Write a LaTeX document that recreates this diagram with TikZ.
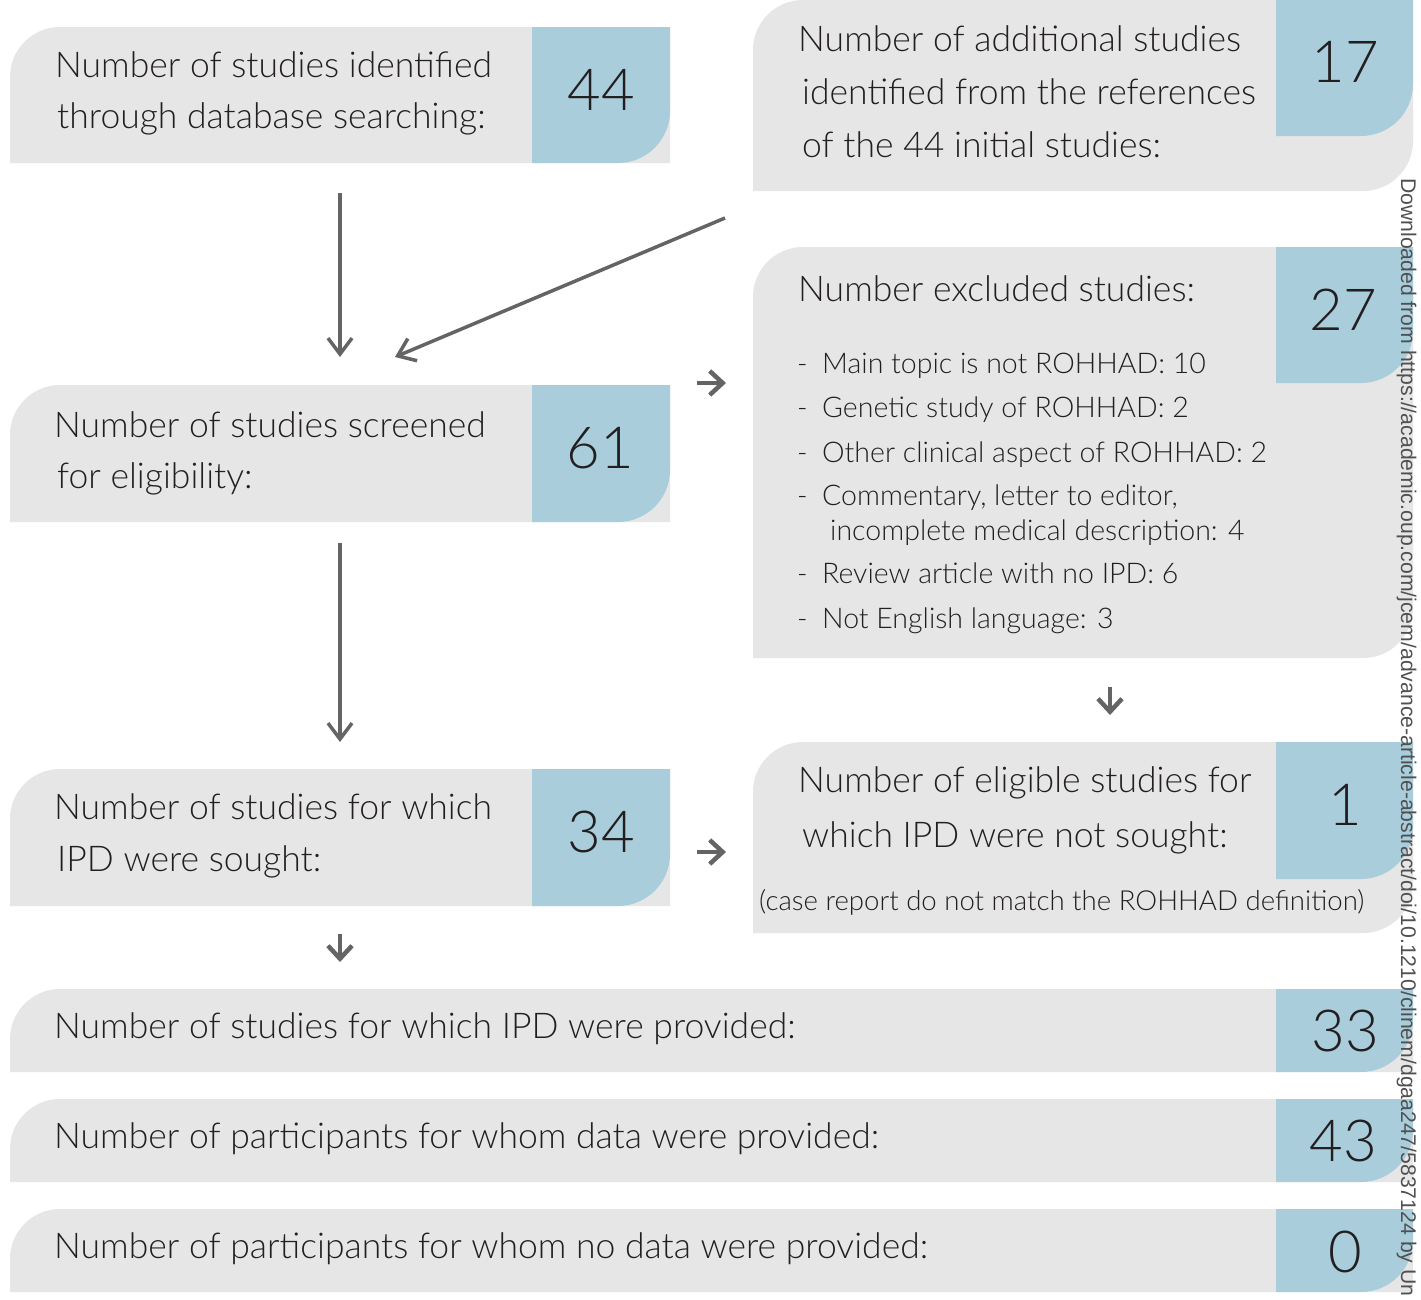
\documentclass[tikz,border=0pt]{standalone}
\usepackage{fontspec}
\IfFontExistsTF{Lato Light}{\setmainfont{Lato Light}}{\setmainfont{Lato}}
\newfontfamily\wmfont{Liberation Sans}
\usetikzlibrary{arrows.meta}
\definecolor{boxgrey}{RGB}{230,230,230}
\definecolor{boxblue}{RGB}{169,205,219}
\definecolor{txt}{RGB}{35,31,32}
\definecolor{arr}{RGB}{100,100,100}
\definecolor{wm}{RGB}{80,80,80}
\begin{document}
\begin{tikzpicture}[x=1pt,y=1pt,
 lbl/.style={anchor=base west, inner sep=0pt, text=txt, font=\fontsize{35.5}{40}\selectfont},
 sub/.style={anchor=base west, inner sep=0pt, text=txt, font=\fontsize{28.5}{32}\selectfont},
 note/.style={anchor=base west, inner sep=0pt, text=txt, font=\fontsize{27.6}{32}\selectfont},
 num/.style={anchor=base, inner sep=0pt, text=txt, font=\fontsize{58}{60}\selectfont},
 flow/.style={draw=arr, line width=3.5pt, -{Straight Barb[length=16pt,width=24pt]}},
 flowshort/.style={draw=arr, line width=4.5pt, -{Straight Barb[length=13pt,width=24pt]}},
 greyfill/.style={fill=boxgrey}, bluefill/.style={fill=boxblue}]
\fill[white] (0,0) rectangle (1421,-1299);
\useasboundingbox (0,0) rectangle (1421,-1299);

% ---------- grey boxes ----------
% A identified
\fill[greyfill] (10,-163) -- (10,-77) arc[start angle=180,end angle=90,radius=50] -- (670,-27) -- (670,-163) -- cycle;
% B additional
\fill[greyfill] (753,-191) -- (753,-50) arc[start angle=180,end angle=90,radius=50] -- (1413,0) -- (1413,-141) arc[start angle=0,end angle=-90,radius=50] -- cycle;
% C excluded
\fill[greyfill] (753,-658) -- (753,-297) arc[start angle=180,end angle=90,radius=50] -- (1413,-247) -- (1413,-608) arc[start angle=0,end angle=-90,radius=50] -- cycle;
% D screened
\fill[greyfill] (10,-522) -- (10,-435) arc[start angle=180,end angle=90,radius=50] -- (670,-385) -- (670,-522) -- cycle;
% E sought
\fill[greyfill] (10,-906) -- (10,-819) arc[start angle=180,end angle=90,radius=50] -- (670,-769) -- (670,-906) -- cycle;
% F not sought
\fill[greyfill] (753,-933) -- (753,-792) arc[start angle=180,end angle=90,radius=50] -- (1413,-742) -- (1413,-883) arc[start angle=0,end angle=-90,radius=50] -- cycle;
% G, H, I
\fill[greyfill] (10,-1072) -- (10,-1039) arc[start angle=180,end angle=90,radius=50] -- (1413,-989) -- (1413,-1072) -- cycle;
\fill[greyfill] (10,-1182) -- (10,-1149) arc[start angle=180,end angle=90,radius=50] -- (1413,-1099) -- (1413,-1182) -- cycle;
\fill[greyfill] (10,-1292) -- (10,-1259) arc[start angle=180,end angle=90,radius=50] -- (1413,-1209) -- (1413,-1292) -- cycle;

% ---------- blue boxes ----------
\fill[bluefill] (532,-27) -- (670,-27) -- (670,-111) arc[start angle=0,end angle=-90,radius=52] -- (532,-163) -- cycle;
\fill[bluefill] (1276,0) -- (1413,0) -- (1413,-84) arc[start angle=0,end angle=-90,radius=52] -- (1276,-136) -- cycle;
\fill[bluefill] (1276,-247) -- (1413,-247) -- (1413,-331) arc[start angle=0,end angle=-90,radius=52] -- (1276,-383) -- cycle;
\fill[bluefill] (532,-385) -- (670,-385) -- (670,-470) arc[start angle=0,end angle=-90,radius=52] -- (532,-522) -- cycle;
\fill[bluefill] (532,-769) -- (670,-769) -- (670,-854) arc[start angle=0,end angle=-90,radius=52] -- (532,-906) -- cycle;
\fill[bluefill] (1276,-742) -- (1413,-742) -- (1413,-827) arc[start angle=0,end angle=-90,radius=52] -- (1276,-879) -- cycle;
\fill[bluefill] (1276,-989) -- (1413,-989) -- (1413,-1020) arc[start angle=0,end angle=-90,radius=52] -- (1276,-1072) -- cycle;
\fill[bluefill] (1276,-1099) -- (1413,-1099) -- (1413,-1130) arc[start angle=0,end angle=-90,radius=52] -- (1276,-1182) -- cycle;
\fill[bluefill] (1276,-1209) -- (1413,-1209) -- (1413,-1240) arc[start angle=0,end angle=-90,radius=52] -- (1276,-1292) -- cycle;

% ---------- texts ----------
\node[lbl] (a1) at (55,-77) {Number of studies identified};
\node[lbl] (a2) at (57,-128) {through database searching:};
\node[num] (an) at (601,-110) {44};

\node[lbl] (b1) at (798,-51) {Number of additional studies};
\node[lbl] (b2) at (802,-104) {identified from the references};
\node[lbl] (b3) at (802,-157) {of the 44 initial studies:};
\node[num] (bn) at (1345,-82) {17};

\node[lbl] (c1) at (798,-301) {Number excluded studies:};
\node[num] (cn) at (1343,-330) {27};
\node[sub] (cd1) at (797,-373) {-};
\node[sub] (ct1) at (822,-373) {Main topic is not ROHHAD: 10};
\node[sub] (cd2) at (797,-417) {-};
\node[sub] (ct2) at (822,-417) {Genetic study of ROHHAD: 2};
\node[sub] (cd3) at (797,-462) {-};
\node[sub] (ct3) at (822,-462) {Other clinical aspect of ROHHAD: 2};
\node[sub] (cd4) at (797,-505) {-};
\node[sub] (ct4) at (822,-505) {Commentary, letter to editor,};
\node[sub] (ct4b) at (830,-540) {incomplete medical description: 4};
\node[sub] (cd5) at (797,-583) {-};
\node[sub] (ct5) at (822,-583) {Review article with no IPD: 6};
\node[sub] (cd6) at (797,-628) {-};
\node[sub] (ct6) at (822,-628) {Not English language: 3};

\node[lbl] (d1) at (54,-437) {Number of studies screened};
\node[lbl] (d2) at (57,-488) {for eligibility:};
\node[num] (dn) at (600,-468) {61};

\node[lbl] (e1) at (54,-819) {Number of studies for which};
\node[lbl] (e2) at (57,-871) {IPD were sought:};
\node[num] (en) at (601,-852) {34};

\node[lbl] (f1) at (798,-792) {Number of eligible studies for};
\node[lbl] (f2) at (802,-847) {which IPD were not sought:};
\node[note] (f3) at (759,-910) {(case report do not match the ROHHAD definition)};
\node[num] (fn) at (1345,-825) {1};

\node[lbl] (g1) at (54,-1038) {Number of studies for which IPD were provided:};
\node[num] (gn) at (1345,-1051) {33};
\node[lbl] (h1) at (54,-1148) {Number of participants for whom data were provided:};
\node[num] (hn) at (1343,-1161) {43};
\node[lbl] (i1) at (54,-1258) {Number of participants for whom no data were provided:};
\node[num] (in) at (1345,-1272) {0};

% ---------- connectors ----------
\coordinate (p1s) at (340,-193); \coordinate (p1e) at (340,-357);
\coordinate (p2s) at (725,-218); \coordinate (p2e) at (395,-357);
\coordinate (p3s) at (697,-383); \coordinate (p3e) at (726,-383);
\coordinate (p4s) at (340,-543); \coordinate (p4e) at (340,-742);
\coordinate (p5s) at (1110,-687); \coordinate (p5e) at (1110,-715);
\coordinate (p6s) at (697,-852); \coordinate (p6e) at (726,-852);
\coordinate (p7s) at (340,-934); \coordinate (p7e) at (340,-962);
\draw[flow] (p1s) -- (p1e);
\draw[flow] (p2s) -- (p2e);
\draw[flow] (p4s) -- (p4e);
\draw[flowshort] (p3s) -- (p3e);
\draw[flowshort] (p5s) -- (p5e);
\draw[flowshort] (p6s) -- (p6e);
\draw[flowshort] (p7s) -- (p7e);

% ---------- watermark ----------
\node[anchor=base west, rotate=-90, inner sep=0pt, text=wm, font=\wmfont\fontsize{21.2}{22}\selectfont] (wmark) at (1401,-178) {Downloaded from https://academic.oup.com/jcem/advance-article-abstract/doi/10.1210/clinem/dgaa247/5837124 by Un};
\end{tikzpicture}
\end{document}
